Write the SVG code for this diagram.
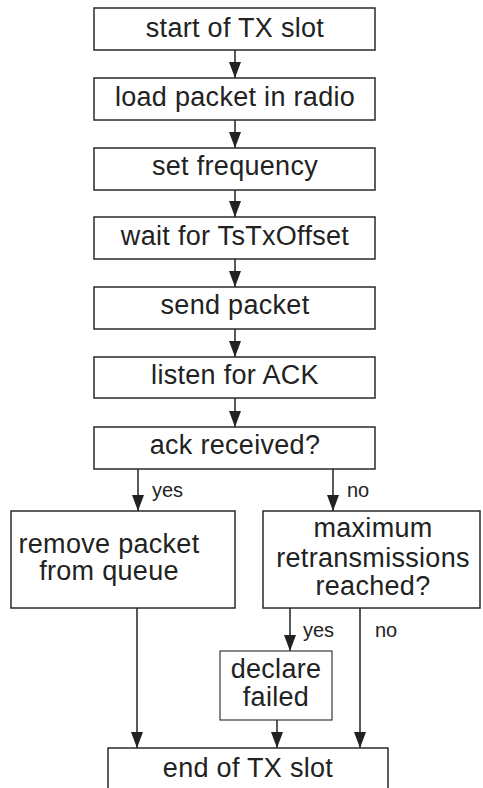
<svg xmlns="http://www.w3.org/2000/svg" width="483" height="788" viewBox="0 0 483 788">
<style>
.box{fill:#fff;stroke:#2a2a2a;stroke-width:1.5}
.box2{fill:#fff;stroke:#3a3a3a;stroke-width:1.2}
.t{font-family:"Liberation Sans",Arial,sans-serif;font-size:27px;fill:#222;text-anchor:middle;letter-spacing:0.3px}
.l{font-family:"Liberation Sans",Arial,sans-serif;font-size:20px;fill:#222}
.c{stroke:#222;stroke-width:1.5;fill:none;marker-end:url(#ah)}
</style>
<defs>
<marker id="ah" viewBox="0 0 16 12" refX="16" refY="6" markerWidth="16" markerHeight="12" markerUnits="userSpaceOnUse" orient="auto">
<path d="M0,0 L16,6 L0,12 z" fill="#222"/>
</marker>
</defs>
<rect width="483" height="788" fill="#fff"/>
<g id="connectors">
<line class="c" x1="235" y1="50" x2="235" y2="78"/>
<line class="c" x1="235" y1="120" x2="235" y2="148"/>
<line class="c" x1="235" y1="190" x2="235" y2="217"/>
<line class="c" x1="235" y1="259" x2="235" y2="287"/>
<line class="c" x1="235" y1="329" x2="235" y2="357"/>
<line class="c" x1="235" y1="398" x2="235" y2="427"/>
<line class="c" x1="138" y1="469" x2="138" y2="511"/>
<line class="c" x1="333" y1="469" x2="333" y2="511"/>
<line class="c" x1="137" y1="608" x2="137" y2="748"/>
<line class="c" x1="290" y1="608" x2="290" y2="651"/>
<line class="c" x1="360" y1="608" x2="360" y2="748"/>
<line class="c" x1="277" y1="720" x2="277" y2="748"/>
<text class="l" x="152" y="497">yes</text>
<text class="l" x="347" y="497">no</text>
<text class="l" x="303" y="637">yes</text>
<text class="l" x="375" y="637">no</text>
</g>
<g id="start">
<rect class="box" x="94" y="8" width="281" height="42"/>
<text class="t" x="235" y="37">start of TX slot</text>
</g>
<g id="load">
<rect class="box" x="94" y="78" width="281" height="42"/>
<text class="t" x="235" y="106">load packet in radio</text>
</g>
<g id="freq">
<rect class="box" x="94" y="148" width="281" height="42"/>
<text class="t" x="235" y="175">set frequency</text>
</g>
<g id="wait">
<rect class="box" x="94" y="217" width="281" height="42"/>
<text class="t" x="235" y="245">wait for TsTxOffset</text>
</g>
<g id="send">
<rect class="box" x="94" y="287" width="281" height="42"/>
<text class="t" x="235" y="314">send packet</text>
</g>
<g id="listen">
<rect class="box" x="94" y="357" width="281" height="41"/>
<text class="t" x="235" y="384">listen for ACK</text>
</g>
<g id="ack">
<rect class="box" x="94" y="427" width="281" height="42"/>
<text class="t" x="235" y="454">ack received?</text>
</g>
<g id="remove">
<rect class="box" x="11" y="511" width="224" height="97"/>
<text class="t" x="109" y="553">remove packet</text>
<text class="t" x="109" y="580">from queue</text>
</g>
<g id="maxretx">
<rect class="box" x="263" y="511" width="217" height="97"/>
<text class="t" x="373" y="537">maximum</text>
<text class="t" x="373" y="567">retransmissions</text>
<text class="t" x="373" y="595">reached?</text>
</g>
<g id="declare">
<rect class="box2" x="220" y="651" width="112" height="69"/>
<text class="t" x="276" y="678">declare</text>
<text class="t" x="276" y="706">failed</text>
</g>
<g id="end">
<rect class="box" x="108" y="748" width="280" height="60"/>
<text class="t" x="248" y="777">end of TX slot</text>
</g>
</svg>
